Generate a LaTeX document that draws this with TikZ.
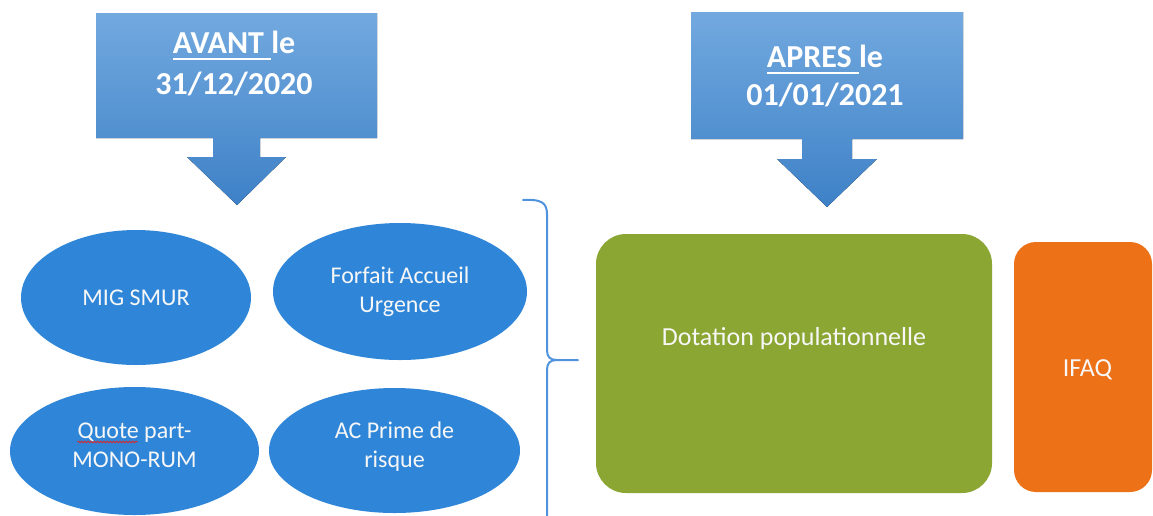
\documentclass[tikz,border=0pt]{standalone}
\usepackage{fontspec}
\setmainfont{Carlito}
\usetikzlibrary{shapes.geometric,decorations.pathmorphing,calc}
\definecolor{ellblue}{RGB}{47,134,216}
\definecolor{boxtop}{RGB}{114,169,223}
\definecolor{boxbot}{RGB}{62,129,199}
\definecolor{dotgreen}{RGB}{139,166,50}
\definecolor{ifaqorange}{RGB}{237,113,23}
\definecolor{bracecol}{RGB}{80,146,222}
\definecolor{txtwhite}{RGB}{247,247,247}
\definecolor{spellred}{RGB}{215,40,40}
\newcommand{\myul}[1]{\setbox0\hbox{#1}\rlap{\rule[-7pt]{\wd0}{1.8pt}}\box0}
\newcommand{\lowstrut}{\rule[-12pt]{0pt}{12pt}}
\begin{document}
\begin{tikzpicture}[x=1pt,y=-1pt,
  calloutfill/.style={top color=boxtop, bottom color=boxbot, draw=none},
  headtext/.style={text=white, font=\fontsize{32}{40}\selectfont\bfseries, anchor=base, inner sep=0pt},
  bubble/.style={ellipse, fill=ellblue, draw=none, inner sep=0pt, text=txtwhite,
    font=\fontsize{24}{29}\selectfont, align=center},
  blockbox/.style={rectangle, draw=none, inner sep=0pt},
  blocktext/.style={text=txtwhite, font=\fontsize{26}{31}\selectfont, anchor=base, inner sep=0pt},
  bracepath/.style={draw=bracecol, line width=2pt, line cap=round, line join=round}
]
\fill[white] (0,0) rectangle (1153,515);
\useasboundingbox (0,0) rectangle (1153,515);

% callouts
\fill[calloutfill] (96,13) -- (377,13) -- (377,138) -- (260,138) -- (260,157) -- (286,157)
  -- (237,205) -- (187,157) -- (213,157) -- (213,138) -- (96,138) -- cycle;
\fill[calloutfill] (691,12) -- (963,12) -- (963,139) -- (852,139) -- (852,159) -- (877,159)
  -- (827,207) -- (777,159) -- (802,159) -- (802,139) -- (691,139) -- cycle;

\node[headtext] (avant1) at (234,53) {\myul{AVANT\ }le};
\node[headtext] (avant2) at (234,94) {31/12/2020};
\node[headtext] (apres1) at (825,67) {\myul{APRES\ }le};
\node[headtext] (apres2) at (825,105) {01/01/2021};

% ellipses
\node[bubble, minimum width=230pt, minimum height=135pt] (mig) at (136,297.5) {MIG SMUR};
\node[bubble, minimum width=254pt, minimum height=137pt] (forfait) at (400,291.5) {Forfait Accueil\\Urgence};
\node[bubble, minimum width=249pt, minimum height=128pt] (quote) at (134.5,451) {Quote part-\\MONO-RUM\lowstrut};
\node[bubble, minimum width=251pt, minimum height=125pt] (ac) at (394.5,450.5) {AC Prime de\\risque\lowstrut};

\draw[spellred, line width=0.9pt, decorate, decoration={snake, amplitude=0.8pt, segment length=3.2pt}]
  ($(quote.center)+(-57,-9)$) -- ($(quote.center)+(3,-9)$);

% brace
\draw[bracepath] (523,200) .. controls (540,199) and (547,202) .. (547,214) -- (547,350)
  .. controls (547,357) and (550,360) .. (557,360) -- (578,360);
\draw[bracepath] (557,360) .. controls (550,360) and (547,363) .. (547,370) -- (547,520);

% right blocks
\node[blockbox, fill=dotgreen, rounded corners=30pt, minimum width=396pt, minimum height=259pt] (dot) at (794,363.5) {};
\node[blocktext] (dottxt) at (794,345) {Dotation populationnelle};
\node[blockbox, fill=ifaqorange, rounded corners=22pt, minimum width=138pt, minimum height=250pt] (ifaq) at (1083,367) {};
\node[blocktext] (ifaqtxt) at (1087.5,376) {IFAQ};
\end{tikzpicture}
\end{document}
